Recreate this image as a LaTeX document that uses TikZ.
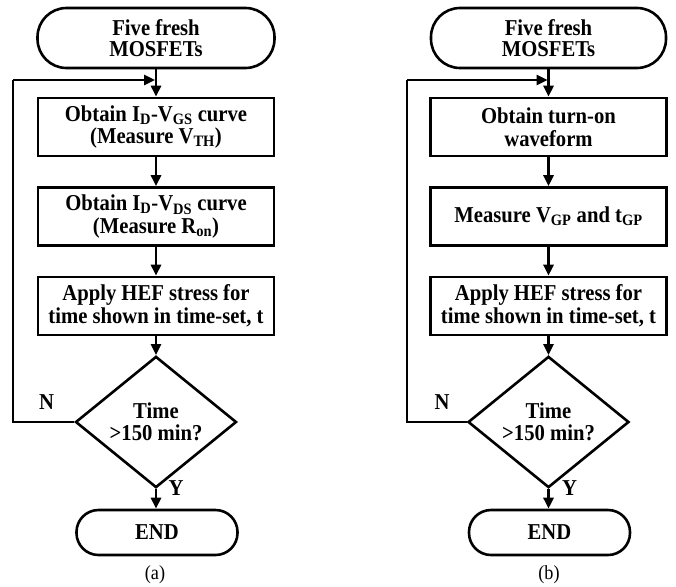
\documentclass[tikz,border=0pt]{standalone}
\usepackage{fontspec}
\setmainfont{Liberation Serif}[FakeStretch=0.91]
\usetikzlibrary{shapes.geometric,arrows.meta}
\tikzset{
  base/.style={draw=black, line width=2.6pt, align=center, inner sep=0pt,
    font=\fontsize{22.7}{22.5}\selectfont\bfseries},
  termbox/.style={base, rectangle, rounded corners=#1},
  procbox/.style={base, rectangle, minimum width=236pt, minimum height=58pt},
  decbox/.style={base, diamond, minimum width=161pt, minimum height=112pt},
  conn/.style={line width=2.6pt, -{Triangle[length=11pt,width=10pt]}},
  plainline/.style={line width=2.6pt},
  lbl/.style={font=\fontsize{22.7}{22.5}\selectfont\bfseries, inner sep=0pt},
  captxt/.style={font=\fontsize{20}{22}\selectfont, inner sep=0pt}
}
\begin{document}
\begin{tikzpicture}[x=1pt,y=-1pt]
\useasboundingbox (0,0) rectangle (676,586);
% ---------- (a) ----------
\node[termbox=29pt, minimum width=237pt, minimum height=60pt, font=\fontsize{22.7}{21.5}\selectfont\bfseries] (aS) at (156,38) {Five fresh\\MOSFETs};
\node[procbox] (a1) at (156,127) {Obtain I\textsubscript{D}-V\textsubscript{GS} curve\\(Measure V\textsubscript{TH})};
\node[procbox] (a2) at (156,216.5) {Obtain I\textsubscript{D}-V\textsubscript{DS} curve\\(Measure R\textsubscript{on})};
\node[procbox] (a3) at (156,306) {Apply HEF stress for\\time shown in time-set, t};
\node[decbox] (aD) at (156,422) {Time\\>150 min?};
\node[termbox=22pt, minimum width=161pt, minimum height=45pt] (aE) at (157,532.5) {END};
\coordinate (aL) at (13,422);
\coordinate (aT) at (13,80);
\coordinate (aJ) at (156,80);
\draw[conn] (aS) -- (a1);
\draw[conn] (a1) -- (a2);
\draw[conn] (a2) -- (a3);
\draw[conn] (a3) -- (aD);
\draw[conn] (aD.south) -- (aE.north -| aD.south);
\draw[plainline] (aD.west) -- (aL) -- (aT);
\draw[conn, shorten >=1pt] (aT) -- (aJ);
\node[lbl] (aN) at (46.5,402) {N};
\node[lbl] (aY) at (176,488) {Y};
\node[captxt] (aC) at (155,575) {(a)};
% ---------- (b) ----------
\node[termbox=29pt, minimum width=235pt, minimum height=60pt, font=\fontsize{22.7}{21.5}\selectfont\bfseries] (bS) at (548.5,38) {Five fresh\\MOSFETs};
\node[procbox] (b1) at (548.5,127) {Obtain turn-on\\waveform};
\node[procbox] (b2) at (548.5,216.5) {Measure V\textsubscript{GP} and t\textsubscript{GP}};
\node[procbox] (b3) at (548.5,306) {Apply HEF stress for\\time shown in time-set, t};
\node[decbox] (bD) at (548.5,422) {Time\\>150 min?};
\node[termbox=22pt, minimum width=161pt, minimum height=45pt] (bE) at (549.5,532.5) {END};
\coordinate (bL) at (407,422);
\coordinate (bT) at (407,80);
\coordinate (bJ) at (548.5,80);
\draw[conn] (bS) -- (b1);
\draw[conn] (b1) -- (b2);
\draw[conn] (b2) -- (b3);
\draw[conn] (b3) -- (bD);
\draw[conn] (bD.south) -- (bE.north -| bD.south);
\draw[plainline] (bD.west) -- (bL) -- (bT);
\draw[conn, shorten >=1pt] (bT) -- (bJ);
\node[lbl] (bN) at (442,402) {N};
\node[lbl] (bY) at (569.5,488) {Y};
\node[captxt] (bC) at (549,575) {(b)};
\end{tikzpicture}
\end{document}
